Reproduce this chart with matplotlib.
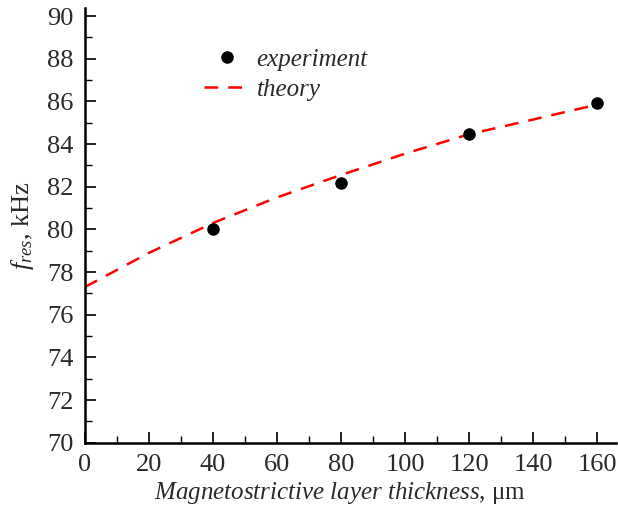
import matplotlib
matplotlib.use("Agg")
import matplotlib.pyplot as plt
from matplotlib.ticker import MultipleLocator

# experiment points
exp_x = [40, 80, 120, 160]
exp_y = [80.0, 82.16, 84.45, 85.9]

# theory curve
th_x = [0, 20, 40, 60, 80, 100, 120, 140, 160]
th_y = [77.3, 78.9, 80.3, 81.5, 82.55, 83.55, 84.46, 85.15, 85.85]

plt.rcParams['font.family'] = ['Liberation Serif', 'DejaVu Serif']
plt.rcParams['mathtext.fontset'] = 'custom'
plt.rcParams['mathtext.rm'] = 'Liberation Serif'
plt.rcParams['mathtext.it'] = 'Liberation Serif:italic'

txt = '#2a2a2a'

fig = plt.figure(figsize=(6.18, 5.08), dpi=100)
ax = fig.add_axes([0.1375, 0.1285, 0.859, 0.8555])

ax.plot(th_x, th_y, color='red', lw=1.8, dashes=(5.5, 4), label='theory')
ax.plot(exp_x, exp_y, 'o', color='black', ms=8, label='experiment', zorder=3)

ax.set_xlim(0, 165.8)
ax.set_ylim(70, 90.37)
ax.xaxis.set_major_locator(MultipleLocator(20))
ax.xaxis.set_minor_locator(MultipleLocator(10))
ax.yaxis.set_major_locator(MultipleLocator(2))
ax.yaxis.set_minor_locator(MultipleLocator(1))

for s in ['top', 'right']:
    ax.spines[s].set_visible(False)
for s in ['left', 'bottom']:
    ax.spines[s].set_linewidth(1.8)
    ax.spines[s].set_color('black')

ax.tick_params(which='major', direction='in', length=8, width=1.2, labelsize=19, colors='black', labelcolor=txt, pad=8)
ax.tick_params(which='minor', direction='in', length=5, width=1.0, colors='black')

ax.set_xlabel(r'$\it{Magnetostrictive\ layer\ thickness}$, μm', fontsize=18, color=txt, labelpad=4)
ax.xaxis.set_label_coords(0.48, -0.085)
ax.set_ylabel(r'$\it{f}_{\it{res}}$, kHz', fontsize=19, color=txt)
ax.yaxis.set_label_coords(-0.093, 0.5)

handles, labels = ax.get_legend_handles_labels()
leg = ax.legend(handles[::-1], labels[::-1], loc='upper left', bbox_to_anchor=(0.182, 0.96),
                frameon=False, fontsize=18, handlelength=1.8, handletextpad=0.3, labelspacing=0.3)
for t in leg.get_texts():
    t.set_fontstyle('italic')
    t.set_color(txt)

fig.savefig('out.png', dpi=100)
